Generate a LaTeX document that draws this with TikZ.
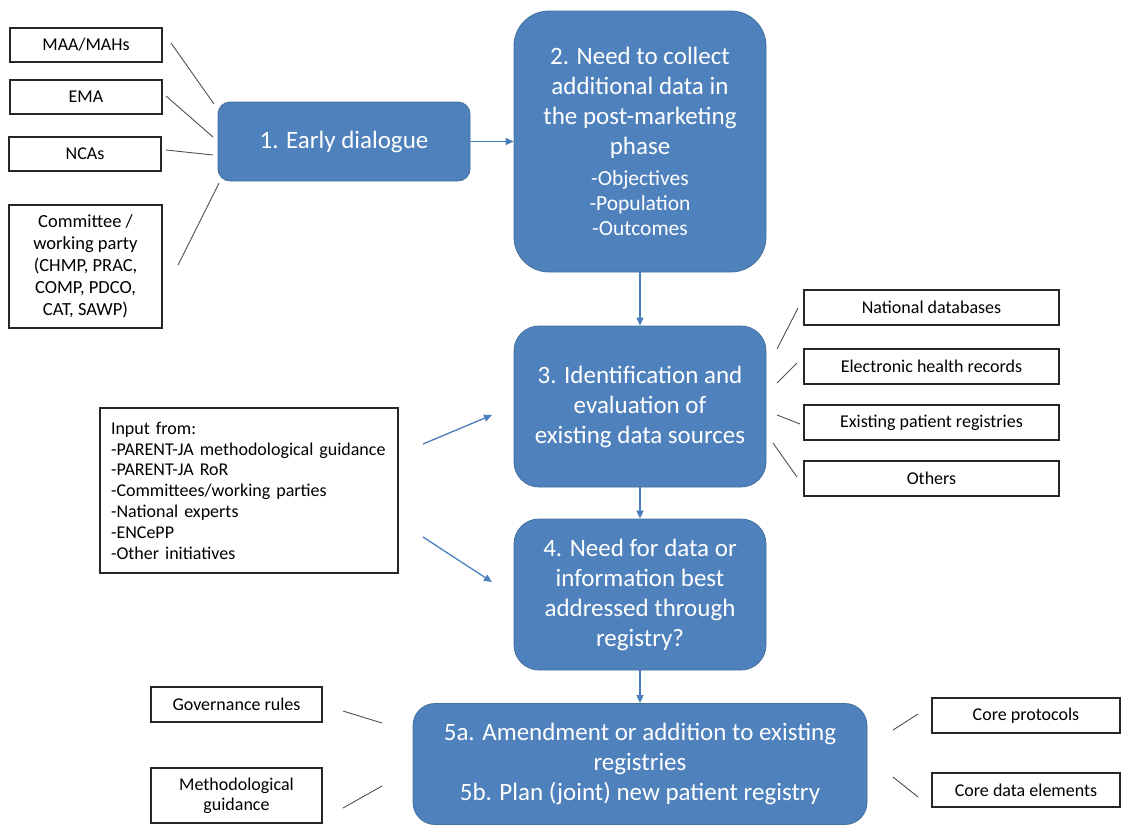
\documentclass[tikz,border=0pt]{standalone}
\usepackage{fontspec}
\setmainfont{Carlito}
\usetikzlibrary{arrows.meta}
\definecolor{stepblue}{HTML}{4F81BD}
\definecolor{stepborder}{HTML}{41719C}
\definecolor{arrowblue}{HTML}{4A7EBB}
\definecolor{boxline}{HTML}{262626}
\newcommand{\subsize}{\fontsize{21.5}{25}\selectfont}
\begin{document}
\begin{tikzpicture}[x=1pt,y=-1pt,
  bluebox/.style={fill=stepblue,draw=stepborder,line width=0.8pt,text=white,align=center,inner sep=0pt,font=\fontsize{25}{30}\selectfont},
  smallbox/.style={draw=boxline,line width=1.1pt,fill=white,align=center,inner sep=0pt,font=\fontsize{18}{21}\selectfont},
  link/.style={draw=boxline!80,line width=0.9pt},
  flow/.style={draw=arrowblue,line width=1.3pt,-{Triangle[length=8pt,width=7pt]}}]
\useasboundingbox (0,0) rectangle (1132,825);

% blue steps
\node[bluebox,rounded corners=12pt,minimum width=252pt,minimum height=79pt] (n1) at (344,141.5) {1. Early dialogue};
\node[bluebox,rounded corners=35pt,minimum width=252pt,minimum height=261pt] (n2) at (640,141.5)
  {2. Need to collect\\ additional data in\\ the post-marketing\\ phase\\[1pt]
   \subsize -Objectives\\[-5pt] \subsize -Population\\[-5pt] \subsize -Outcomes};
\node[bluebox,rounded corners=25pt,minimum width=252pt,minimum height=161pt] (n3) at (640,406.5)
  {3. Identification and\\ evaluation of\\ existing data sources};
\node[bluebox,rounded corners=25pt,minimum width=252pt,minimum height=151pt] (n4) at (640,594.5)
  {4. Need for data or\\ information best\\ addressed through\\ registry?};
\node[bluebox,rounded corners=22pt,minimum width=454pt,minimum height=121pt] (n5) at (640,764)
  {5a. Amendment or addition to existing\\ registries\\ 5b. Plan (joint) new patient registry};

% left small boxes
\node[smallbox,minimum width=152pt,minimum height=34pt] (maa) at (86,45) {MAA/MAHs};
\node[smallbox,minimum width=152pt,minimum height=34pt] (ema) at (86,97) {EMA};
\node[smallbox,minimum width=152pt,minimum height=34pt] (ncas) at (85,154) {NCAs};
\node[smallbox,minimum width=153pt,minimum height=123pt,font=\fontsize{18.5}{22}\selectfont] (comm) at (85.5,266.5)
  {Committee /\\ working party\\ (CHMP, PRAC,\\ COMP, PDCO,\\ CAT, SAWP)};

% right small boxes
\node[smallbox,minimum width=255pt,minimum height=35pt] (nat) at (931.5,307.5) {National databases};
\node[smallbox,minimum width=255pt,minimum height=35pt] (ehr) at (931.5,366.5) {Electronic health records};
\node[smallbox,minimum width=255pt,minimum height=35pt] (epr) at (931.5,422.5) {Existing patient registries};
\node[smallbox,minimum width=255pt,minimum height=35pt] (oth) at (931.5,478.5) {Others};

% input box
\node[smallbox,align=left,minimum width=298pt,minimum height=165pt,text width=276pt,font=\fontsize{18}{20.8}\selectfont] (inp) at (249,490.5)
  {Input from:\\ -PARENT-JA methodological guidance\\ -PARENT-JA RoR\\ -Committees/working parties\\ -National experts\\ -ENCePP\\ -Other initiatives};

% bottom small boxes
\node[smallbox,minimum width=171pt,minimum height=35pt] (gov) at (236.5,704.5) {Governance rules};
\node[smallbox,minimum width=171pt,minimum height=55pt,font=\fontsize{18}{20}\selectfont] (meth) at (236.5,795.5) {Methodological\\ guidance};
\node[smallbox,minimum width=188pt,minimum height=35pt] (cp) at (1026,715.5) {Core protocols};
\node[smallbox,minimum width=188pt,minimum height=34pt] (cde) at (1026,790) {Core data elements};

% free ends of the plain links
\coordinate (maaE) at (171,43);  \coordinate (maaT) at (214,104);
\coordinate (emaE) at (166,96);  \coordinate (emaT) at (213,137);
\coordinate (ncaE) at (166,150); \coordinate (ncaT) at (213,155);
\coordinate (comE) at (178,265); \coordinate (comT) at (219,183);
\coordinate (natS) at (777,349); \coordinate (natE) at (798,308);
\coordinate (ehrS) at (777,383); \coordinate (ehrE) at (797,363);
\coordinate (eprS) at (777,415); \coordinate (eprE) at (800,424);
\coordinate (othS) at (773,443); \coordinate (othE) at (797,477);
\coordinate (govE) at (343,711); \coordinate (govT) at (382,723);
\coordinate (metE) at (343,808); \coordinate (metT) at (382,786);
\coordinate (cpS) at (893,730);  \coordinate (cpE) at (918,714);
\coordinate (cdeS) at (893,777); \coordinate (cdeE) at (918,797);
\coordinate (inA) at (423,444);  \coordinate (inAt) at (492,415);
\coordinate (inB) at (423,537);  \coordinate (inBt) at (492,582);

\draw[link] (maaE) -- (maaT);
\draw[link] (emaE) -- (emaT);
\draw[link] (ncaE) -- (ncaT);
\draw[link] (comE) -- (comT);
\draw[link] (natS) -- (natE);
\draw[link] (ehrS) -- (ehrE);
\draw[link] (eprS) -- (eprE);
\draw[link] (othS) -- (othE);
\draw[link] (govE) -- (govT);
\draw[link] (metE) -- (metT);
\draw[link] (cpS) -- (cpE);
\draw[link] (cdeS) -- (cdeE);

% flow arrows
\draw[flow] (n1.east) -- (n2.west |- n1.east);
\draw[flow] (n2.south) -- (n3.north);
\draw[flow] (n3.south) -- (n4.north);
\draw[flow] (n4.south) -- (n5.north);
\draw[flow] (inA) -- (inAt);
\draw[flow] (inB) -- (inBt);
\end{tikzpicture}
\end{document}
